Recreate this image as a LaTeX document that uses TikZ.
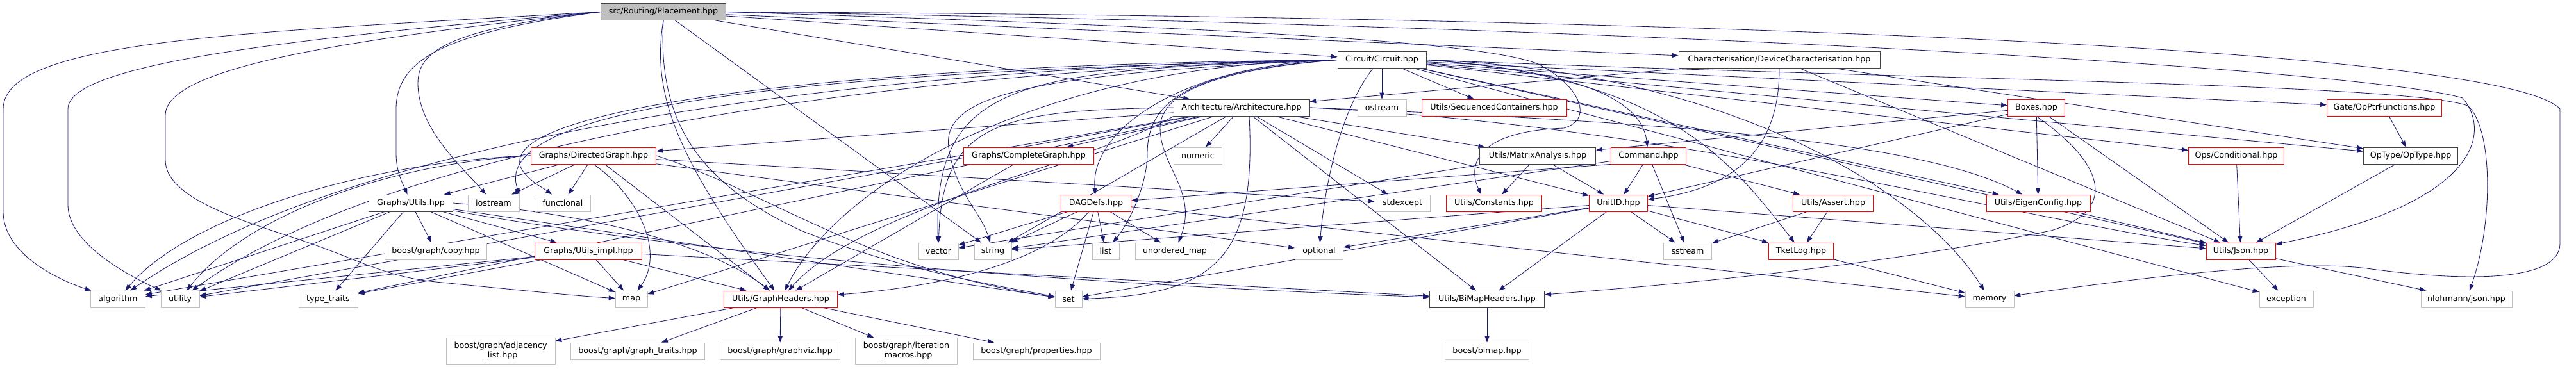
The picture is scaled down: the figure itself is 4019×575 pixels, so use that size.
\documentclass[tikz,border=0pt]{standalone}
\usepackage{fontspec}
\setmainfont{DejaVu Sans}
\usepackage{tikz}
\usetikzlibrary{arrows.meta,backgrounds}
\usepackage{xcolor}
\definecolor{doxNavy}{RGB}{25,25,112}
\definecolor{doxRed}{RGB}{255,0,0}
\definecolor{doxLight}{RGB}{191,191,191}
\definecolor{doxDark}{RGB}{64,64,64}
\newcommand{\doxfont}{\fontsize{9}{10.5}\selectfont}

\begin{document}
\begin{tikzpicture}[x=0.025cm,y=0.025cm,
  hdr/.style={draw,fill=white,line width=0.6pt,font=\doxfont,
    minimum height=0.65cm,inner sep=1pt,minimum width=#1},
  sys/.style={hdr=#1,draw=doxLight},
  loc/.style={hdr=#1,draw=doxDark},
  trunc/.style={hdr=#1,draw=doxRed},
  root/.style={hdr=#1,draw=doxDark,fill=doxLight},
  incl/.style={doxNavy,line width=0.6pt,-{Triangle[length=7pt,width=5pt]}}]
  \useasboundingbox (0,0) rectangle (4019,-575);

  \node[root=4.88cm] (P) at (1035,-18.5) {src/Routing/Placement.hpp};

  \node[loc=3.45cm] (C) at (2156,-93.5) {Circuit/Circuit.hpp};
  \node[loc=7.85cm] (Ch) at (2776,-93.5) {Characterisation/DeviceCharacterisation.hpp};

  \node[loc=5.30cm] (A) at (1937,-168) {Architecture/Architecture.hpp};
  \node[sys=1.90cm] (ost) at (2156,-168) {ostream};
  \node[trunc=5.65cm] (seq) at (2331,-168) {Utils/SequencedContainers.hpp};
  \node[trunc=2.23cm] (box) at (3177,-168) {Boxes.hpp};
  \node[trunc=4.48cm] (opf) at (3720,-168) {Gate/OpPtrFunctions.hpp};

  \node[trunc=4.88cm] (dg) at (926,-243) {Graphs/DirectedGraph.hpp};
  \node[trunc=5.08cm] (cg) at (1605,-243) {Graphs/CompleteGraph.hpp};
  \node[sys=1.88cm] (num) at (1869,-243) {numeric};
  \node[loc=4.53cm] (mat) at (2399,-243) {Utils/MatrixAnalysis.hpp};
  \node[trunc=2.93cm] (cmd) at (2572,-243) {Command.hpp};
  \node[trunc=3.73cm] (cond) at (3489,-243) {Ops/Conditional.hpp};
  \node[loc=3.68cm] (opt) at (3761,-243) {OpType/OpType.hpp};

  \node[loc=3.28cm] (gu) at (641,-317) {Graphs/Utils.hpp};
  \node[sys=2.00cm] (ios) at (770,-317) {iostream};
  \node[sys=2.18cm] (fun) at (878,-317) {functional};
  \node[trunc=2.73cm] (dag) at (1710,-317) {DAGDefs.hpp};
  \node[sys=2.15cm] (sexc) at (2188,-317) {stdexcept};
  \node[trunc=3.73cm] (cst) at (2331,-317) {Utils/Constants.hpp};
  \node[trunc=2.28cm] (uid) at (2525,-317) {UnitID.hpp};
  \node[trunc=3.13cm] (ast) at (2860,-317) {Utils/Assert.hpp};
  \node[trunc=4.05cm] (eig) at (3180,-317) {Utils/EigenConfig.hpp};

  \node[sys=3.98cm] (cpy) at (680,-392) {boost/graph/copy.hpp};
  \node[trunc=4.18cm] (gui) at (918,-392) {Graphs/Utils\_impl.hpp};
  \node[sys=1.55cm] (vec) at (1464,-392) {vector};
  \node[sys=1.45cm] (str) at (1549,-392) {string};
  \node[sys=1.05cm] (lst) at (1725,-392) {list};
  \node[sys=3.10cm] (umap) at (1833,-392) {unordered\_map};
  \node[sys=1.88cm] (optl) at (2058,-392) {optional};
  \node[sys=1.88cm] (sst) at (2633,-392) {sstream};
  \node[trunc=2.53cm] (tlog) at (2810,-392) {TketLog.hpp};
  \node[trunc=2.70cm] (json) at (3496,-392) {Utils/Json.hpp};

  \node[sys=2.13cm] (alg) at (184,-467) {algorithm};
  \node[sys=1.50cm] (uti) at (281,-467) {utility};
  \node[sys=2.30cm] (tt) at (512,-467) {type\_traits};
  \node[sys=1.25cm] (map) at (985,-467) {map};
  \node[trunc=4.43cm] (gh) at (1218,-467) {Utils/GraphHeaders.hpp};
  \node[sys=1.05cm] (set) at (1667,-467) {set};
  \node[loc=4.48cm] (bim) at (2320,-467) {Utils/BiMapHeaders.hpp};
  \node[sys=1.90cm] (mem) at (3104,-467) {memory};
  \node[sys=2.10cm] (exc) at (3567,-467) {exception};
  \node[sys=3.55cm] (nlj) at (3848,-467) {nlohmann/json.hpp};

  \node[sys=4.25cm,minimum height=1.03cm,align=center] (adj) at (781,-548) {boost/graph/adjacency\\\_list.hpp};
  \node[sys=5.23cm] (gtr) at (995,-548) {boost/graph/graph\_traits.hpp};
  \node[sys=4.68cm] (gvz) at (1217,-548) {boost/graph/graphviz.hpp};
  \node[sys=3.98cm,minimum height=1.03cm,align=center] (itm) at (1414,-548) {boost/graph/iteration\\\_macros.hpp};
  \node[sys=4.95cm] (prp) at (1617,-548) {boost/graph/properties.hpp};
  \node[sys=3.28cm] (bbm) at (2320,-548) {boost/bimap.hpp};

  \begin{scope}[on background layer]
    \foreach \s/\t in {P/A, P/C, P/Ch, P/str,
      Ch/A, Ch/opt, Ch/json,
      C/ost, C/seq, C/box, C/opf, C/cond, C/opt, C/json, C/exc, C/eig,
      A/num, A/cg, A/dg, A/mat, A/uid, A/bim, A/str, A/map, A/alg, A/uti, A/tt, A/sexc,
      box/mat, box/uid, box/eig, box/json,
      opf/opt, cond/json, opt/json, cg/gh,
      dg/gu, dg/ios, dg/fun, dg/gh, dg/optl, dg/sexc,
      mat/cst, mat/uid, mat/vec,
      cmd/uid, cmd/sst, cmd/ast, cmd/str,
      gu/cpy, gu/gui, gu/alg, gu/uti, gu/tt, gu/map, gu/set,
      gui/map, gui/gh, gui/alg, gui/uti, gui/tt, gui/bim,
      dag/vec, dag/str, dag/lst, dag/umap, dag/set, dag/mem,
      uid/optl, uid/sst, uid/bim, uid/json, uid/tlog, uid/str, uid/set,
      ast/sst, ast/tlog, eig/json, tlog/mem, json/exc, json/nlj,
      gh/adj, gh/gtr, gh/gvz, gh/itm, gh/prp, bim/bbm}
      \draw[incl] (\s) -- (\t);

    \draw[incl] (P.west) .. controls (400,-50) and (5,-60) .. (5,-170) -- (5,-330)
      .. controls (5,-400) and (100,-440) .. (alg);
    \draw[incl] (P.west) .. controls (450,-60) and (106,-100) .. (106,-170) -- (106,-320)
      .. controls (106,-380) and (200,-430) .. (uti);
    \draw[incl] (P.west) .. controls (500,-65) and (258,-110) .. (258,-180) -- (258,-250)
      .. controls (258,-310) and (380,-345) .. (470,-375)
      .. controls (560,-405) and (600,-432) .. (680,-440)
      .. controls (800,-452) and (900,-462) .. (map);
    \draw[incl] (P.west) .. controls (700,-50) and (618,-90) .. (618,-170) -- (618,-240)
      .. controls (618,-270) and (630,-290) .. (gu);
    \draw[incl] (P.west) .. controls (700,-45) and (652,-80) .. (652,-130)
      .. controls (652,-200) and (720,-260) .. (ios);
    \draw[incl] (P.south) .. controls (1015,-150) and (1060,-250) .. (gh);
    \draw[incl] (P.south) .. controls (1025,-200) and (1100,-290) .. (1250,-360)
      .. controls (1400,-420) and (1550,-445) .. (set);
    \draw[incl] (P.east) .. controls (2500,-25) and (3900,-70) .. (3994,-170) -- (3994,-380)
      .. controls (3994,-440) and (3850,-440) .. (3700,-420)
      .. controls (3600,-405) and (3400,-425) .. (mem);
    \draw[incl] (P.east) .. controls (2600,-40) and (3700,-110) .. (3842,-153)
      .. controls (3890,-210) and (3860,-320) .. (json);
    \draw[incl] (P.east) .. controls (1800,-40) and (2300,-60) .. (2400,-100)
      .. controls (2460,-130) and (2490,-185) .. (2440,-200)
      .. controls (2300,-205) and (2290,-260) .. ([xshift=-0.5cm]cst.north);

    \draw[incl] (C.east) .. controls (3000,-125) and (3750,-130) .. (3850,-165)
      .. controls (3890,-200) and (3890,-350) .. (nlj);
    \draw[incl] ([xshift=-0.35cm]C.south) .. controls (2100,-160) and (2070,-260) .. (optl);
    \draw[incl] (C.east) .. controls (2450,-110) and (2560,-150) .. (cmd);
    \draw[incl] (C.east) .. controls (2600,-120) and (2700,-250) .. (tlog);
    \draw[incl] (C.east) .. controls (2700,-110) and (3000,-300) .. (mem);
    \draw[incl] (C.west) .. controls (1850,-110) and (1790,-160) .. (1790,-240)
      .. controls (1790,-290) and (1760,-350) .. (lst);
    \draw[incl] (C.west) .. controls (1880,-110) and (1810,-150) .. (1810,-200)
      .. controls (1810,-260) and (1870,-300) .. (umap);
    \draw[incl] (C.west) .. controls (1850,-100) and (1700,-200) .. (dag);
    \draw[incl] (C.west) .. controls (1600,-110) and (1455,-120) .. (vec);
    \draw[incl] (C.west) .. controls (1600,-115) and (1470,-150) .. (1480,-230)
      .. controls (1490,-300) and (1530,-330) .. (str);
    \draw[incl] (C.west) .. controls (1600,-100) and (1300,-300) .. (gh);
    \draw[incl] (C.west) .. controls (1500,-100) and (600,-180) .. (alg);
    \draw[incl] (C.west) .. controls (1500,-105) and (650,-200) .. (uti);
    \draw[incl] (C.west) .. controls (1300,-110) and (760,-160) .. (ios.north east);
    \draw[incl] (C.west) .. controls (1300,-100) and (780,-170) .. (812,-260)
      .. controls (820,-280) and (850,-295) .. (fun);

    \draw[incl] (A.west) .. controls (1560,-172) and (1470,-190) .. (vec);
    \draw[incl] ([xshift=0.3cm]A.south) .. controls (1960,-400) and (1900,-460) .. (set);
    \draw[incl] (A.south west) .. controls (1720,-250) and (1350,-320) .. (gh);
    \draw[incl] (A.east) .. controls (2600,-190) and (3000,-220) .. (eig);
    \draw[incl] (A.east) .. controls (2600,-195) and (3100,-330) .. (json);

    \draw[incl] (Ch.south) .. controls (2776,-200) and (2740,-290) .. (uid);
    \draw[incl] (box.south) .. controls (3290,-260) and (3300,-330) .. (3200,-360)
      .. controls (2900,-420) and (2600,-445) .. (bim);
    \draw[incl] (gu) .. controls (1100,-400) and (1700,-445) .. (bim);
    \draw[incl] (gu.east) .. controls (950,-335) and (1120,-390) .. (gh);
    \draw[incl] (dg.west) .. controls (600,-250) and (300,-330) .. (alg);
    \draw[incl] (dg.west) .. controls (600,-255) and (380,-340) .. (uti);
    \draw[incl] (dg.south) .. controls (990,-300) and (1040,-390) .. (map);
    \draw[incl] (dg.east) .. controls (1200,-300) and (1350,-420) .. (set);
    \draw[incl] (dag) .. controls (1640,-400) and (1500,-445) .. (gh);
    \draw[incl] (cmd.south west) -- (dag);
  \end{scope}
\end{tikzpicture}
\end{document}
